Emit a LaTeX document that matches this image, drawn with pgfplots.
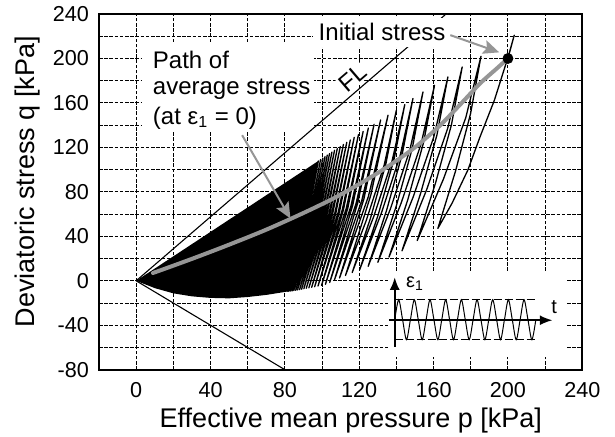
\documentclass[border=0pt]{standalone}
\usepackage{fontspec}
\setmainfont{Liberation Sans}
\usepackage{pgfplots}
\pgfplotsset{compat=1.18}
\usetikzlibrary{arrows.meta}
\definecolor{pathgray}{RGB}{150,150,150}
\newcommand{\annfont}{\fontsize{12}{14}\selectfont}
\begin{document}
\begin{tikzpicture}
\path[use as bounding box] (-49.5pt,-33.15pt) rectangle (258pt,184.85pt);
\begin{axis}[
  at={(0pt,0pt)}, anchor=south west,
  scale only axis, width=241.65pt, height=177.85pt,
  xmin=-20, xmax=240, ymin=-80, ymax=240,
  xtick={0,40,...,240}, ytick={-80,-40,...,240},
  minor tick num=1,
  grid=both,
  major grid style={black, line width=0.45pt, dash pattern=on 1.8pt off 0.8pt},
  minor grid style={black, line width=0.45pt, dash pattern=on 1.8pt off 0.8pt},
  major tick length=0pt, minor tick length=0pt,
  axis line style={line width=0.9pt},
  /pgf/number format/assume math mode=true,
  tick label style={font=\fontsize{10.8}{12}\selectfont},
  xticklabel style={anchor=north, inner sep=0pt, yshift=-6pt},
  yticklabel style={anchor=east, inner sep=0pt, xshift=-4.9pt},
]
% white boxes behind labels
\fill[white] (3.4,134.5) rectangle (95.5,215);
\fill[white] (135.3,-68.3) rectangle (231.2,8.1);
% failure lines
\addplot[black, line width=0.55pt] coordinates {(0,0) (166.7,240)};
\addplot[black, line width=0.55pt] coordinates {(0,0) (80,-80)};
% dense core of loops
\addplot[fill=black, draw=none] coordinates {
(0,0) (10,11) (30,33) (50,55) (70,77) (90,99) (98,107.8) (91.5,49.15) (82.1,-9.5)
(70,-12.7) (60,-14.6) (50,-15.8) (40,-15.4) (30,-14) (20,-11.3) (10,-6.6) (0,0)};
% cyclic stress path
\addplot[black, line width=0.65pt, line join=round] coordinates {
(200,200) (203.4,221) (200.2,202) (192.7,162.4) (185.1,130) (178.4,99.5) (170,70) (162.3,47.1)
(171.8,98.7) (179.9,150.4) (185.5,202) (177.3,146.7) (165.3,91.5) (151.2,36.2)
(161.1,88.3) (169.6,140.3) (175.4,192.4) (167.6,137.2) (156.3,82.1) (143,26.9)
(153.1,79.1) (161.8,131.2) (167.7,183.4) (160.1,129.4) (149.0,75.3) (136,21.3)
(146.1,72.8) (154.6,124.4) (160.5,175.9) (153.2,122.8) (142.5,69.7) (130,16.6)
(140.0,67.7) (148.5,118.8) (154.3,169.9) (147.2,117.6) (136.9,65.3) (124.8,13)
(134.7,63.3) (143.1,113.7) (148.9,164) (142.0,112.6) (132.0,61.3) (120.2,9.9)
(130.2,59.4) (138.7,109) (144.5,158.5) (137.7,108.1) (127.8,57.8) (116.2,7.4)
(126.0,56.1) (134.3,104.9) (140,153.6) (133.4,104.0) (123.8,54.4) (112.6,4.8)
(126.2,76.9) (135.5,149) (124.9,75.75) (109.4,2.5)
(122.5,73.6) (131.5,144.7) (121.4,72.55) (106.6,0.4)
(119.3,70.6) (128,140.8) (118.3,69.65) (104.1,-1.5)
(116.5,67.95) (124.9,137.4) (115.5,67.1) (101.8,-3.2)
(113.9,65.55) (122.1,134.3) (113.0,65.05) (99.7,-4.2)
(111.5,63.7) (119.6,131.6) (110.8,63.4) (97.8,-4.8)
(109.4,62.1) (117.3,129) (108.7,61.8) (96,-5.4)
(107.4,60.65) (115.2,126.7) (106.8,60.4) (94.4,-5.9)
(105.6,59.35) (113.3,124.6) (105.0,59.1) (92.9,-6.4)
(104.0,58.15) (111.5,122.7) (103.4,57.95) (91.5,-6.8)
(102.4,57.0) (109.8,120.8) (101.8,56.8) (90.2,-7.2)
(100.9,55.9) (108.2,119) (100.4,55.7) (89,-7.6)
(99.5,54.9) (106.7,117.4) (99.1,54.7) (87.9,-8)
(98.2,53.9) (105.3,115.8) (97.8,53.75) (86.8,-8.3)
(97.0,53.05) (104,114.4) (96.6,52.9) (85.8,-8.6)
(95.9,52.25) (102.8,113.1) (95.5,52.15) (84.8,-8.8)
(94.8,51.5) (101.6,111.8) (94.4,51.35) (83.9,-9.1)
(93.7,50.65) (100.4,110.4) (93.3,50.55) (83,-9.3)
(92.6,49.9) (99.2,109.1) (92.3,49.8) (82.1,-9.5)
(91.5,49.15) (98,107.8) (91.2,49.05) (81.3,-9.7)};
% white box behind "Initial stress"
\fill[white] (95.2,210.5) rectangle (169.6,236);
% path of average stress
\addplot[pathgray, line width=2pt, smooth, line cap=round] coordinates {
(9,7) (20,13.6) (33,21.6) (50,32.5) (70,46) (90,61) (106,74) (120,87)
(131.4,98.5) (141.7,110) (150.7,121) (163,139) (174,158) (185,177.5) (194,191) (200,200)};
% arrows
\draw[pathgray, line width=1pt, -{Stealth[length=8pt,width=7pt,inset=1.5pt]}] (57,131) -- (83,56);
\draw[pathgray, line width=1pt, -{Stealth[length=8pt,width=7pt,inset=1.5pt]}] (169,221) -- (195.3,205.5);
% initial stress point
\addplot[only marks, mark=*, mark size=2.5pt, black] coordinates {(200,200)};
% labels
\node[anchor=base west, inner sep=0pt, font=\annfont] at (98,216.4) {Initial stress};
\node[anchor=base west, inner sep=0pt, font=\annfont] at (8.8,190.9) {Path of};
\node[anchor=base west, inner sep=0pt, font=\annfont] at (8.8,167.6) {average stress};
\node[anchor=base west, inner sep=0pt, font=\annfont] at (8.8,140.9) {(at ε\textsubscript{1} = 0)};
\node[rotate=40.6, fill=white, inner sep=0.5pt, font=\annfont] at (116.5,182.5) {FL};
% inset
\addplot[black, line width=0.5pt, dash pattern=on 4pt off 1.5pt] coordinates {(139.1,-17) (215,-17)};
\addplot[black, line width=0.5pt, dash pattern=on 4pt off 1.5pt] coordinates {(139.1,-53) (215,-53)};
\addplot[black, line width=0.5pt, smooth] coordinates {
(139.10,-35) (141.21,-17) (143.32,-35) (145.42,-53) (147.53,-35) (149.64,-17)
(151.75,-35) (153.86,-53) (155.96,-35) (158.07,-17) (160.18,-35) (162.29,-53)
(164.40,-35) (166.50,-17) (168.61,-35) (170.72,-53) (172.83,-35) (174.94,-17)
(177.04,-35) (179.15,-53) (181.26,-35) (183.37,-17) (185.48,-35) (187.58,-53)
(189.69,-35) (191.80,-17) (193.91,-35) (196.02,-53) (198.12,-35) (200.23,-17)
(202.34,-35) (204.45,-53) (206.56,-35) (208.66,-17) (210.77,-35) (212.88,-53)
(214.99,-35)};
\draw[black, line width=0.8pt, -{Latex[length=6.3pt,width=5pt]}] (139.1,-59.3) -- (139.1,3.1);
\draw[black, line width=0.8pt, -{Latex[length=6.3pt,width=5pt]}] (136,-35.5) -- (223.9,-35.5);
\node[anchor=base west, inner sep=0pt, font=\fontsize{10}{12}\selectfont] at (145,-5.9) {ε\textsubscript{1}};
\node[anchor=base west, inner sep=0pt, font=\fontsize{10}{12}\selectfont] at (223.2,-29.3) {t};
\end{axis}
\node[anchor=base, inner sep=0pt, font=\fontsize{13.5}{16}\selectfont] at (125.9pt,-29pt) {Effective mean pressure p [kPa]};
\node[anchor=base, inner sep=0pt, rotate=90, font=\fontsize{13.5}{16}\selectfont] at (-32pt,94.1pt) {Deviatoric stress q [kPa]};
\end{tikzpicture}
\end{document}
